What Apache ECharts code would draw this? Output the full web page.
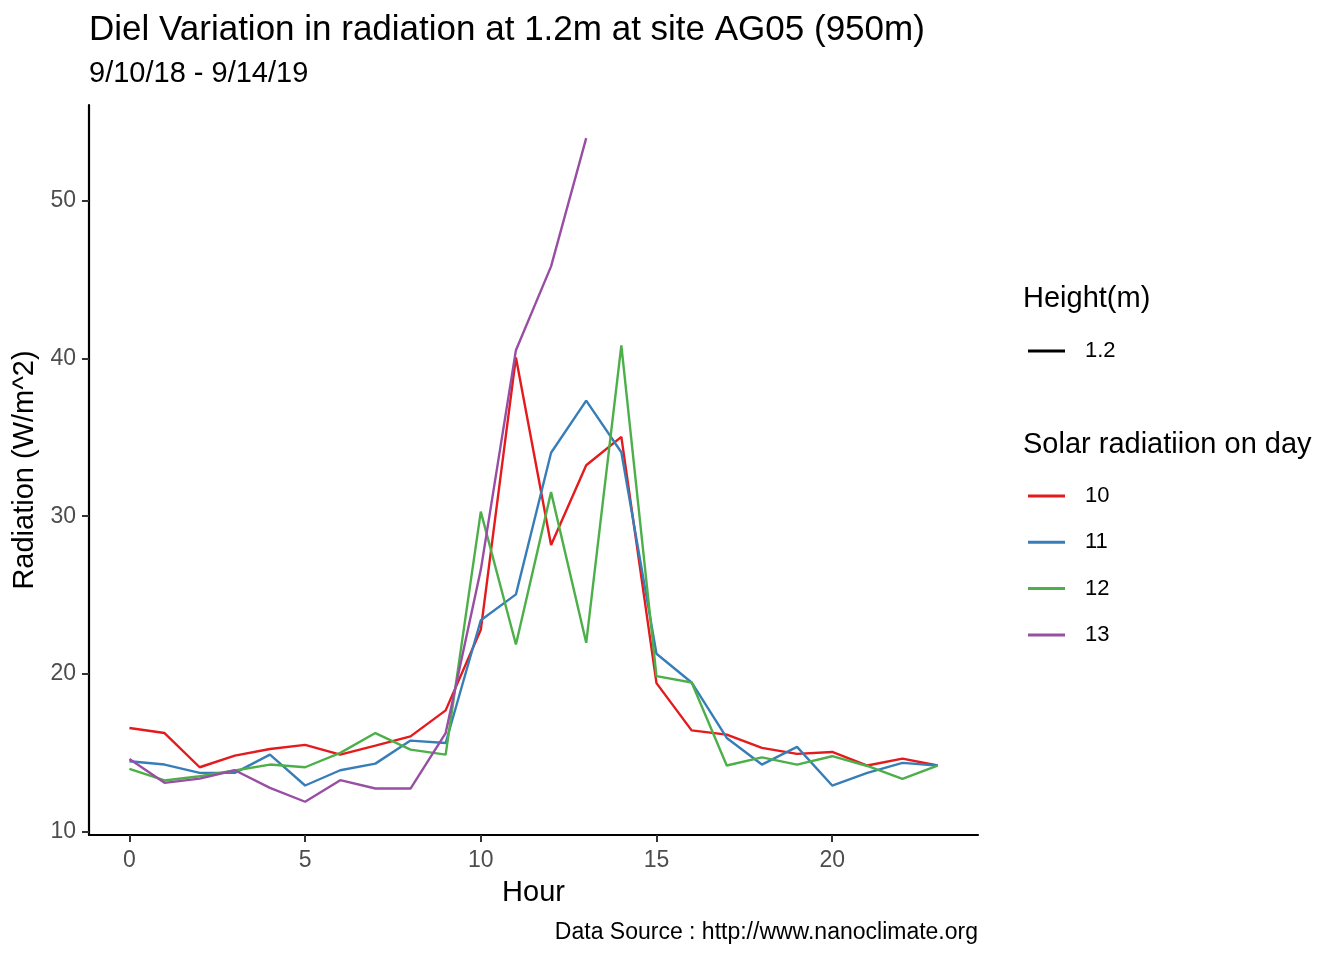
<!DOCTYPE html>
<html><head><meta charset="utf-8">
<script src="https://cdn.jsdelivr.net/npm/echarts@6/dist/echarts.min.js"></script>
<style>html,body{margin:0;padding:0;background:#fff}#c{width:1344px;height:960px}</style>
</head><body><div id="c"></div>
<script>
const hours = [0,1,2,3,4,5,6,7,8,9,10,11,12,13,14,15,16,17,18,19,20,21,22,23];
const day10 = [16.56,16.24,14.07,14.81,15.23,15.49,14.87,15.44,16.03,17.68,22.79,40.08,28.18,33.24,35.04,19.41,16.41,16.14,15.30,14.92,15.04,14.18,14.62,14.18];
const day11 = [14.45,14.24,13.71,13.71,14.87,12.91,13.88,14.30,15.76,15.61,23.40,25.04,34.03,37.34,34.06,21.27,19.45,15.93,14.24,15.36,12.91,13.71,14.35,14.18];
const day12 = [13.97,13.23,13.50,13.86,14.24,14.07,14.98,16.24,15.19,14.87,30.29,21.86,31.53,21.97,40.85,19.85,19.45,14.18,14.70,14.24,14.77,14.15,13.33,14.18];
const day13 = [14.60,13.08,13.35,13.88,12.76,11.88,13.25,12.72,12.72,16.24,26.60,40.54,45.86,54.00];
const xTicks = [0,5,10,15,20];
const yTicks = [10,20,30,40,50];
const dayNames = ['10','11','12','13'];
const colors = ['#E41A1C','#377EB8','#4DAF4A','#984EA3'];

const pair = arr => arr.map((v,i)=>[hours[i], v]);
const all = [day10,day11,day12,day13];
const series = all.map((d,i)=>({
  name: dayNames[i], type:'line', data: pair(d), showSymbol:false, symbol:'none',
  lineStyle:{width:2.4, color:colors[i]}, itemStyle:{color:colors[i]}, z: 2+i, animation:false
}));
series.push({name:'1.2', type:'line', data:[], symbol:'none', lineStyle:{width:2.4,color:'#000'}, itemStyle:{color:'#000'}});

const font = 'Liberation Sans, Arial, Helvetica, sans-serif';
const chart = echarts.init(document.getElementById('c'));
chart.setOption({
  backgroundColor:'#fff',
  animation:false,
  textStyle:{fontFamily:font},
  grid:{left:89, right:366, top:105, bottom:125, containLabel:false},
  xAxis:{
    type:'value', min:-1.15, max:24.15,
    name:'Hour', nameLocation:'middle', nameGap:43,
    nameTextStyle:{fontFamily:font, fontSize:29, color:'#000'},
    axisLine:{show:true, onZero:false, lineStyle:{color:'#000', width:2.2}},
    axisTick:{show:true, customValues:xTicks, length:7, lineStyle:{color:'#333', width:2}},
    axisLabel:{customValues:xTicks, fontFamily:font, fontSize:23, color:'#4d4d4d', margin:14},
    splitLine:{show:false}
  },
  yAxis:{
    type:'value', min:9.77, max:56.1,
    name:'Radiation (W/m^2)', nameLocation:'middle', nameGap:45, nameRotate:90,
    nameTextStyle:{fontFamily:font, fontSize:29, color:'#000'},
    axisLine:{show:true, onZero:false, lineStyle:{color:'#000', width:2.2}},
    axisTick:{show:true, customValues:yTicks, length:7, lineStyle:{color:'#333', width:2}},
    axisLabel:{customValues:yTicks, fontFamily:font, fontSize:23, color:'#4d4d4d', margin:13},
    splitLine:{show:false}
  },
  legend:[
    {data:['1.2'], orient:'vertical', left:1028, top:340, padding:0, icon:'rect', itemWidth:37, itemHeight:3,
     itemGap:25, textStyle:{fontFamily:font, fontSize:22, color:'#000', lineHeight:22, padding:[0,0,0,15]}},
    {data:dayNames, orient:'vertical', left:1028, top:485, padding:0, icon:'rect', itemWidth:37, itemHeight:3,
     itemGap:24.3, textStyle:{fontFamily:font, fontSize:22, color:'#000', lineHeight:22, padding:[0,0,0,15]}}
  ],
  graphic:[
    {type:'text', x:89, y:30, style:{text:'Diel Variation in radiation at 1.2m at site AG05 (950m)', font:'35px '+font, fill:'#000', verticalAlign:'middle'}},
    {type:'text', x:89, y:74, style:{text:'9/10/18 - 9/14/19', font:'29px '+font, fill:'#000', verticalAlign:'middle'}},
    {type:'text', x:1023, y:299, style:{text:'Height(m)', font:'29px '+font, fill:'#000', verticalAlign:'middle'}},
    {type:'text', x:1023, y:445, style:{text:'Solar radiatiion on day', font:'29px '+font, fill:'#000', verticalAlign:'middle'}},
    {type:'text', x:978, y:933, style:{text:'Data Source : http://www.nanoclimate.org', font:'23px '+font, fill:'#000', align:'right', verticalAlign:'middle'}}
  ],
  series: series
});
</script></body></html>
